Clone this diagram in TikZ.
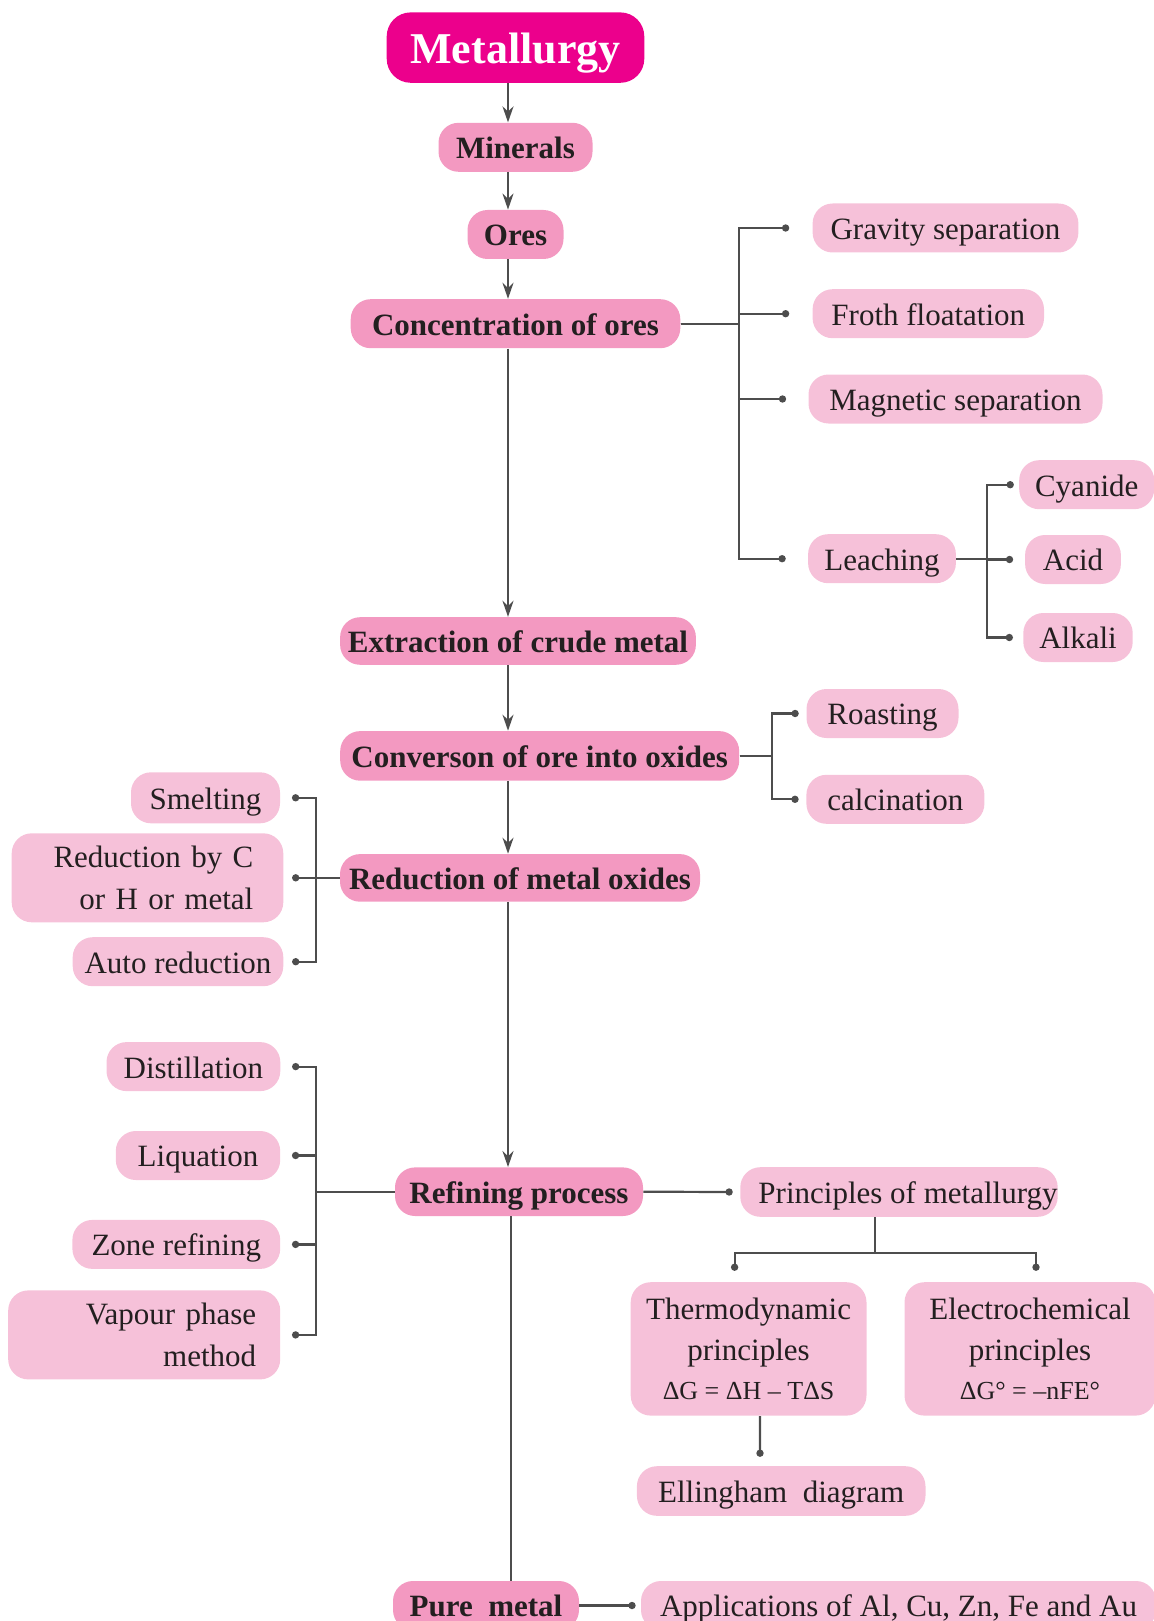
\documentclass[tikz,border=0pt]{standalone}
\usepackage{fontspec}
\setmainfont{Liberation Serif}
\usepackage{tikz}
\usetikzlibrary{arrows.meta, positioning}
\definecolor{magentatop}{RGB}{236,0,140}
\definecolor{pinkmain}{RGB}{243,153,193}
\definecolor{pinklight}{RGB}{246,193,217}
\definecolor{linegray}{RGB}{77,77,77}
\definecolor{txtdark}{RGB}{35,31,32}
\tikzset{
  basebox/.style={rectangle,rounded corners=10pt,align=center,inner sep=0pt,text=txtdark},
  oneline/.style={text height=11.4pt,text depth=0pt},
  topnode/.style={basebox,fill=magentatop,text=white,rounded corners=12pt,text height=15.8pt,text depth=0pt,font=\fontsize{22}{26}\selectfont\bfseries},
  mainnode/.style={basebox,oneline,fill=pinkmain,minimum height=24.5pt,font=\fontsize{15.5}{19}\selectfont\bfseries},
  pinkbox/.style={basebox,fill=pinklight,minimum height=24.5pt,font=\fontsize{15.5}{20.7}\selectfont},
  subnode/.style={pinkbox,oneline},
  arr/.style={-{Stealth[length=8pt,width=5.5pt]},line width=1.1pt,color=linegray},
  dotline/.style={-{Circle[length=3.6pt]},line width=1.1pt,color=linegray},
  plainline/.style={line width=1.1pt,color=linegray}
}

\begin{document}
\begin{tikzpicture}[x=0.5pt,y=-0.5pt,
  wrapbox/.style={pinkbox,align=right,minimum height=44.5pt},
  principle/.style={pinkbox,minimum height=66.7pt}
]
  \useasboundingbox (0,0) rectangle (1154,1621);
  \coordinate (spine) at (508,0);

  %% Main chain
  \node[topnode,minimum width=128.8pt,minimum height=35.2pt] (metal) at (515.5,47.6) {Metallurgy};
  \node[mainnode,minimum width=77pt,below=19.6pt of metal] (mineral) {Minerals};
  \node[mainnode,minimum width=48pt,below=18.7pt of mineral] (ores) {Ores};
  \node[mainnode,minimum width=164.8pt,below=19.7pt of ores] (conc) {Concentration of ores};
  \node[mainnode,minimum width=177.9pt,minimum height=23.8pt] (extract) at (518,641) {Extraction of crude metal};
  \node[mainnode,minimum width=199.5pt,minimum height=24.8pt] (convert) at (539.7,755.9) {Converson of ore into oxides};
  \node[mainnode,minimum width=180pt,minimum height=23.8pt] (reduce) at (520,877.9) {Reduction of metal oxides};
  \node[mainnode,minimum width=124pt,minimum height=24.3pt] (refine) at (519,1191.7) {Refining process};
  \node[mainnode,minimum width=93pt] (pure) at (486,1605.5) {Pure\ \ metal};

  %% Concentration methods
  \node[subnode,minimum width=132.9pt] (gravity) at (945.5,228) {Gravity separation};
  \node[subnode,minimum width=115.7pt] (froth) at (928.3,313.7) {Froth floatation};
  \node[subnode,minimum width=147pt] (magnet) at (955.5,399) {Magnetic separation};
  \node[subnode,minimum width=73.9pt] (leach) at (882,558.7) {Leaching};
  \node[subnode,minimum width=67.5pt] (cyanide) at (1086.7,484.7) {Cyanide};
  \node[subnode,minimum width=47.9pt] (acid) at (1073,559.5) {Acid};
  \node[subnode,minimum width=54.7pt] (alkali) at (1078,637.5) {Alkali};

  %% Conversion into oxides
  \node[subnode,minimum width=76pt] (roast) at (882.5,713.5) {Roasting};
  \node[subnode,minimum width=89pt] (calcine) at (895.4,799.3) {calcination};

  %% Reduction
  \node[subnode,minimum width=74.5pt,minimum height=25.5pt] (smelt) at (205.5,797.8) {Smelting};
  \node[wrapbox,text width=105.8pt,inner xsep=15pt] (redC) at (147.5,877.8) {Reduction by C\\or H or metal};
  \node[subnode,minimum width=105.3pt] (autored) at (178,961.7) {Auto reduction};

  %% Refining
  \node[subnode,minimum width=86.9pt] (distil) at (193.4,1066.6) {Distillation};
  \node[subnode,minimum width=82.2pt] (liquate) at (198,1155.5) {Liquation};
  \node[subnode,minimum width=103.9pt] (zone) at (176.3,1244.4) {Zone refining};
  \node[wrapbox,text width=112pt,inner xsep=12pt] (vapour) at (144.2,1334.9) {Vapour phase\\method};

  %% Principles
  \node[subnode,minimum width=158.7pt,minimum height=24.8pt] (princ) at (899,1192) {\hspace*{9pt}Principles of metallurgy};
  \node[principle,minimum width=117.9pt] (thermo) at (748.6,1348.9) {Thermodynamic\\principles\\[-1pt]{\fontsize{13}{16}\selectfont ΔG = ΔH – TΔS}};
  \node[principle,minimum width=125.5pt] (electro) at (1030,1348.9) {Electrochemical\\principles\\[-1pt]{\fontsize{13}{16}\selectfont ΔG° = –nFE°}};
  \node[subnode,minimum width=144.3pt,minimum height=24.8pt] (elling) at (781.2,1491) {Ellingham\ \ diagram};
  \node[subnode,minimum width=257.5pt] (apply) at (898.5,1605.5) {Applications of Al, Cu, Zn, Fe and Au};

  %% Arrows
  \draw[arr] (metal.south -| spine) -- (mineral.north -| spine);
  \draw[arr] (mineral.south -| spine) -- (ores.north -| spine);
  \draw[arr] (ores.south -| spine) -- (conc.north -| spine);
  \draw[arr] (conc.south -| spine) -- (extract.north -| spine);
  \draw[arr] (extract.south -| spine) -- (convert.north -| spine);
  \draw[arr] (convert.south -| spine) -- (reduce.north -| spine);
  \draw[arr] (reduce.south -| spine) -- (refine.north -| spine);
  \draw[plainline] ([xshift=1.4pt]refine.south -| spine) -- ([xshift=1.4pt]pure.north -| spine);

  \foreach \n/\s in {gravity/11.5pt,froth/11.5pt,magnet/11pt,leach/11pt}
    \draw[dotline] (conc.east) -- ++(58,0) |- ([xshift=-\s]\n.west);
  \foreach \n/\s in {cyanide/2.5pt,acid/5.8pt,alkali/5pt}
    \draw[dotline] (leach.east) -- ++(30.7,0) |- ([xshift=-\s]\n.west);
  \foreach \n in {roast,calcine}
    \draw[dotline] (convert.east) -- ++(32.7,0) |- ([xshift=-3.7pt]\n.west);
  \foreach \n/\s in {smelt/5.8pt,redC/4.2pt,autored/4.2pt}
    \draw[dotline] (reduce.west) -- ++(-23.6,0) |- ([xshift=\s]\n.east);
  \foreach \n in {distil,liquate,zone,vapour}
    \draw[dotline] (refine.west) -- ++(-78.6,0) |- ([xshift=5.7pt]\n.east);

  \draw[dotline] (refine.east) -- ([xshift=-3.6pt]princ.west);
  \draw[dotline] ([xshift=-12pt]princ.south) -- ++(0,36) -| ([xshift=-7pt,yshift=5.5pt]thermo.north);
  \draw[dotline] ([xshift=-12pt]princ.south) -- ++(0,36) -| ([xshift=3pt,yshift=5.5pt]electro.north);
  \draw[dotline] ([xshift=5.7pt]thermo.south) -- ([xshift=-10.6pt,yshift=4.5pt]elling.north);
  \draw[dotline] (pure.east) -- ([xshift=-2.5pt]apply.west);
\end{tikzpicture}
\end{document}
